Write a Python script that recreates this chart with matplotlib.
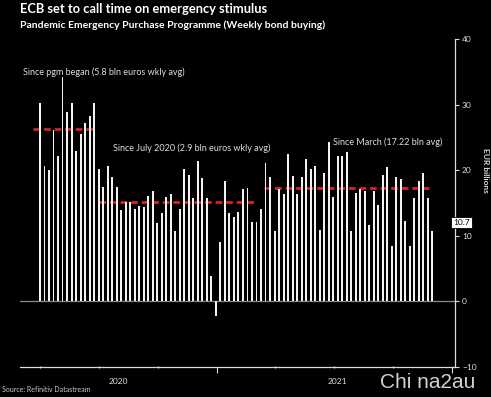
import pandas as pd
import numpy as np
import matplotlib.pyplot as plt
import matplotlib.dates as mdates

plt.rcParams['font.family'] = ['Lato', 'DejaVu Sans']

# weekly PEPP net purchases, EUR bn
weekly_buying = [30.3, 20.6, 20.1, 26.1, 22.2, 34.2, 28.9, 30.2, 22.9, 25.5, 27.2, 28.3, 30.2,
                 20.2, 17.5, 20.7, 18.9, 17.5, 13.9, 15.1, 15.2, 14.1, 14.5, 14.4, 16.1, 16.8,
                 11.9, 13.5, 15.9, 16.4, 10.8, 14.1, 20.2, 19.2, 15.8, 21.4, 18.8, 15.8, 3.8,
                 -2.2, 9.0, 18.3, 13.4, 12.9, 13.6, 17.2, 17.3, 12.1, 12.1, 14.1, 21.1,
                 19.0, 10.8, 17.1, 16.4, 22.4,
                 19.1, 16.4, 19.0, 21.7, 20.2, 20.7, 10.9, 19.5, 24.3, 15.9,
                 22.2, 22.2, 22.8, 10.8, 16.5, 17.2, 16.8, 11.7, 16.9, 14.7,
                 19.2, 20.5, 8.4, 18.9, 18.6, 12.2, 8.4, 15.7, 18.4, 19.5, 15.8, 10.7]
weeks = pd.date_range('2020-04-01', periods=len(weekly_buying), freq='7D')

# period averages: (start, end, level, label)
avg_start = ['2020-03-21', '2020-07-01', '2021-03-15']
avg_end = ['2020-06-25', '2021-03-02', '2021-11-30']
avg_level = [26.3, 15.2, 17.22]
avg_label = ['Since pgm began (5.8 bln euros wkly avg)',
             'Since July 2020 (2.9 bln euros wkly avg)',
             'Since March (17.22 bln avg)']
label_pos = [('2020-03-06', 35.0), ('2020-07-23', 23.3), ('2021-06-30', 24.2)]

last_val = weekly_buying[-1]

fig = plt.figure(figsize=(4.91, 3.97), dpi=100, facecolor='black')
ax = fig.add_axes([20/491, 1-367/397, 435/491, 328/397], facecolor='black')

ax.axhline(0, color='#8a8a8a', lw=0.9, zorder=1)
for s, e, lv in zip(avg_start, avg_end, avg_level):
    ax.plot([pd.Timestamp(s), pd.Timestamp(e)], [lv, lv], color='#d8202a', lw=2.0,
            linestyle=(0, (2.4, 1.4)), zorder=2, solid_capstyle='butt')
ax.bar(weeks, weekly_buying, width=3.0, color='#f2f2f2', zorder=3)

for txt, (d, v) in zip(avg_label, label_pos):
    ax.text(pd.Timestamp(d), v, txt, color='#dddddd', fontsize=6.5, va='center', ha='left')

ax.set_xlim(pd.Timestamp('2020-03-01'), pd.Timestamp('2022-01-05'))
ax.set_ylim(-10, 40)

# axes styling
for sp in ['top', 'left']:
    ax.spines[sp].set_visible(False)
for sp in ['bottom', 'right']:
    ax.spines[sp].set_color('#dddddd')
    ax.spines[sp].set_linewidth(0.9)
ax.yaxis.tick_right()
ax.set_yticks([-10, 0, 10, 20, 30, 40])
ax.tick_params(axis='y', colors='#dddddd', labelsize=6, length=3, width=0.8, pad=2)

ax.xaxis.set_major_locator(mdates.YearLocator())
ax.xaxis.set_minor_locator(mdates.MonthLocator(bymonth=[1, 4, 7, 10]))
ax.xaxis.set_major_formatter(plt.NullFormatter())
ax.tick_params(axis='x', which='major', colors='#dddddd', length=4, width=0.8, direction='out')
ax.tick_params(axis='x', which='minor', colors='#dddddd', length=2, width=0.8, direction='inout')
for yr, d in [('2020', '2020-07-31'), ('2021', '2021-07-07')]:
    ax.text(pd.Timestamp(d), -0.035, yr, transform=ax.get_xaxis_transform(),
            color='#dddddd', fontsize=6, ha='center', va='top')

ax.text(1.062, 0.6, 'EUR billions', transform=ax.transAxes, rotation=270,
        color='#dddddd', fontsize=6, fontweight='bold', ha='left', va='center')
ax.annotate(f'{last_val}', xy=(0.995, last_val), xycoords=('axes fraction', 'data'),
            xytext=(0, 6), textcoords='offset points', fontsize=6, color='black',
            ha='left', va='center',
            bbox=dict(boxstyle='square,pad=0.25', fc='white', ec='black', lw=0.6))

fig.text(20/491, 1-9/397, 'ECB set to call time on emergency stimulus', color='white',
         fontsize=9.3, fontweight='bold', va='center', ha='left')
fig.text(20/491, 1-25.5/397, 'Pandemic Emergency Purchase Programme (Weekly bond buying)',
         color='white', fontsize=7.5, fontweight='bold', va='center', ha='left')
fig.text(2/491, 1-390/397, 'Source: Refinitiv Datastream', color='#cccccc', fontsize=5,
         va='center', ha='left')
fig.text(380/491, 1-383/397, 'Chi na2au', color='#e8e8e8', fontsize=15,
         family=['Liberation Sans', 'DejaVu Sans'], va='center', ha='left', alpha=0.9)

fig.savefig('out.png', dpi=100, facecolor='black')
